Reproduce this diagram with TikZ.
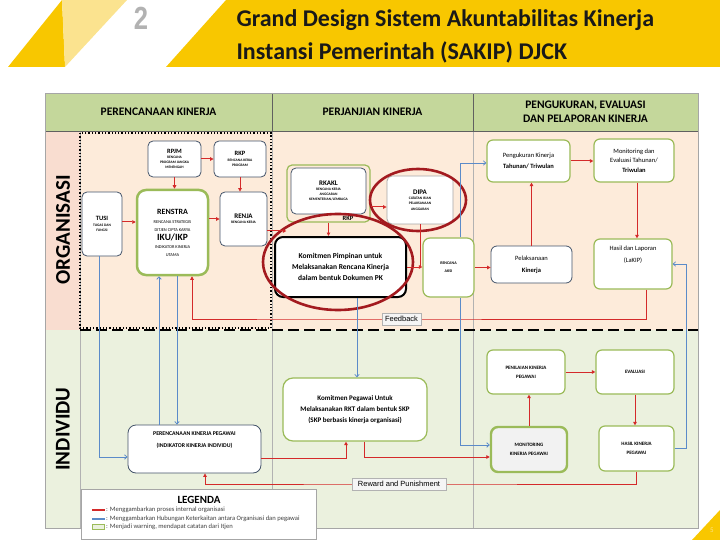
\documentclass[tikz,border=0pt]{standalone}
\usepackage{fontspec}
\setmainfont{Carlito}
\newfontfamily\tagfont{Liberation Sans}
\usetikzlibrary{arrows.meta,calc}
\definecolor{sgold}{HTML}{F8C700}
\definecolor{sgoldlight}{HTML}{FBE38F}
\definecolor{sheadfill}{HTML}{C4D79B}
\definecolor{sorgfill}{HTML}{FDEBDA}
\definecolor{sorgleft}{HTML}{F9DDD0}
\definecolor{sindfill}{HTML}{EBF1DE}
\definecolor{sboxline}{HTML}{44546A}
\definecolor{sgreenline}{HTML}{9BBB59}
\definecolor{sredline}{HTML}{D42A2A}
\definecolor{sblueline}{HTML}{5B8BC9}
\definecolor{sringline}{HTML}{A31A1F}
\tikzset{sbox/.style={rectangle, rounded corners=5pt, draw=sboxline, fill=white, line width=0.8pt, inner sep=1pt, align=center, font=\fontsize{3.6}{5.2}\selectfont\bfseries}}
\tikzset{sgbox/.style={sbox, draw=sgreenline, line width=1.2pt}}
\tikzset{shead/.style={font=\fontsize{11.5}{14}\selectfont\bfseries, align=center}}
\tikzset{sflow/.style={-{Triangle[length=3.5pt,width=3.5pt]}, draw=sredline, line width=1pt}}
\tikzset{slink/.style={-{Straight Barb[length=2.5pt,width=4.5pt]}, draw=sblueline, line width=0.8pt}}
\tikzset{stag/.style={rectangle, draw=gray!60, fill=gray!8, inner sep=3pt, font=\tagfont\fontsize{7.5}{8}\selectfont}}
\tikzset{sring/.style={draw=sringline, line width=2.6pt}}

\begin{document}
\begin{tikzpicture}[x=1pt, y=-1pt]
  \useasboundingbox (0,0) rectangle (720,540);

  % title band
  \fill[sgold] (8,67) -- (65,67) -- (62,0) -- cycle;
  \fill[sgoldlight] (62,0) -- (127,0) -- (65,67) -- cycle;
  \fill[sgold] (166,67) -- (226,0) -- (720,0) -- (720,67) -- cycle;
  \node[font=\tagfont\bfseries\fontsize{32}{32}\selectfont, text=gray!60, xscale=0.8] (num) at (141,18) {2};
  \node[anchor=west, align=left, font=\fontsize{24}{33}\selectfont\bfseries, text=black!90] (title) at (233,36.5) {Grand Design Sistem Akuntabilitas Kinerja\\Instansi Pemerintah (SAKIP) DJCK};

  % table
  \fill[sorgleft] (45,131) rectangle (80,330);
  \fill[sorgfill] (80,131) rectangle (698,330);
  \fill[sindfill] (45,330) rectangle (698,528);
  \fill[sheadfill] (45,93) rectangle (698,131);
  \draw[gray!60] (80,131) -- (80,528) (272,131) -- (272,528) (473,131) -- (473,528);
  \draw[gray!75!black, line width=0.8pt] (45,93) rectangle (698,131) (272,93) -- (272,131) (473,93) -- (473,131);
  \draw[gray!70] (45,93) rectangle (698,528);
  \draw[line width=1.3pt, dotted] (80,133) rectangle (271,328);
  \draw[line width=2pt, dash pattern=on 11pt off 5pt] (80,330) -- (698,330);

  \node[shead] (hplan) at (158.5,112) {PERENCANAAN KINERJA};
  \node[shead] (hpact) at (372.5,112) {PERJANJIAN KINERJA};
  \node[shead] (hmeas) at (585.5,112) {PENGUKURAN, EVALUASI\\DAN PELAPORAN KINERJA};
  \node[rotate=90, font=\fontsize{21}{21}\selectfont\bfseries] (lorg) at (63,230) {ORGANISASI};
  \node[rotate=90, font=\fontsize{21}{21}\selectfont\bfseries] (lind) at (63,429) {INDIVIDU};

  % perencanaan
  \node[sbox, minimum width=53pt, minimum height=36pt] (rpjm) at (174.5,159) {{\fontsize{6.5}{7}\selectfont RPJM}\\RENCANA\\PROGRAM JANGKA\\MENENGAH};
  \node[sbox, minimum width=52pt, minimum height=36pt] (rkp) at (240,159) {{\fontsize{6.5}{7}\selectfont RKP}\\RENCANA KERJA\\PROGRAM};
  \node[sbox, minimum width=40pt, minimum height=64pt] (tusi) at (102,224) {{\fontsize{6.5}{7}\selectfont TUSI}\\TUGAS DAN\\FUNGSI};
  \node[sgbox, line width=2.5pt, rounded corners=9pt, minimum width=71pt, minimum height=85pt, font=\fontsize{4.4}{8}\selectfont] (renstra) at (172.5,232.5) {{\fontsize{8}{9}\selectfont\bfseries RENSTRA}\\[1pt]RENCANA STRATEGIS\\DITJEN CIPTA KARYA\\[1pt]{\fontsize{9.5}{10}\selectfont\bfseries IKU/IKP}\\INDIKATOR KINERJA\\UTAMA};
  \node[sbox, minimum width=47pt, minimum height=54pt] (renja) at (243.5,219) {{\fontsize{7}{8}\selectfont RENJA}\\RENCANA KERJA};

  % perjanjian
  \node[sgbox, fill=none, minimum width=83pt, minimum height=57pt] (rkaklframe) at (328.5,193.5) {};
  \node[sbox, minimum width=75pt, minimum height=46pt] (rkakl) at (328.5,191) {{\fontsize{7}{8}\selectfont RKAKL}\\RENCANA KERJA\\ANGGARAN\\KEMENTERIAN/LEMBAGA};
  \node[font=\fontsize{6.5}{7}\selectfont\bfseries, inner sep=0pt] (rkpnote) at (348,218.5) {RKP};
  \node[sbox, draw=gray!70, minimum width=66pt, minimum height=48pt] (dipa) at (420,200) {{\fontsize{7}{8}\selectfont DIPA}\\CATATAN ISIAN\\PELAKSANAAN\\ANGGARAN};
  \node[sbox, draw=black, line width=2pt, rounded corners=8pt, minimum width=131pt, minimum height=60pt, font=\fontsize{7.5}{11}\selectfont\bfseries] (pk) at (340.5,267) {Komitmen Pimpinan untuk\\Melaksanakan Rencana Kinerja\\dalam bentuk Dokumen PK};
  \node[sgbox, rounded corners=7pt, minimum width=51pt, minimum height=59pt, font=\fontsize{4}{8}\selectfont\bfseries] (aksi) at (448.5,267.5) {RENCANA\\AKSI};

  % pengukuran
  \node[sgbox, rounded corners=6pt, minimum width=83pt, minimum height=42pt, font=\fontsize{6.5}{11}\selectfont] (peng) at (528.5,161) {Pengukuran Kinerja\\\textbf{Tahunan/ Triwulan}};
  \node[sgbox, rounded corners=6pt, minimum width=80pt, minimum height=43pt, font=\fontsize{6.5}{9.5}\selectfont] (monev) at (634,160.5) {Monitoring dan\\Evaluasi Tahunan/\\\textbf{Triwulan}};
  \node[sbox, rounded corners=6pt, minimum width=81pt, minimum height=37pt, font=\fontsize{6.5}{12}\selectfont] (pelaks) at (531.5,264.5) {Pelaksanaan\\\textbf{Kinerja}};
  \node[sgbox, rounded corners=6pt, minimum width=78pt, minimum height=50pt, font=\fontsize{6.5}{12}\selectfont] (lakip) at (633,264) {Hasil dan Laporan\\(LaKIP)\\[8pt]};

  % individu
  \node[sgbox, rounded corners=6pt, minimum width=78pt, minimum height=44pt, font=\fontsize{5}{9}\selectfont\bfseries] (penil) at (526,372) {PENILAIAN KINERJA\\PEGAWAI};
  \node[sgbox, rounded corners=6pt, minimum width=78pt, minimum height=44pt, font=\fontsize{5}{9}\selectfont\bfseries] (eval) at (635,372) {EVALUASI};
  \node[sgbox, line width=2.4pt, fill=gray!10, rounded corners=7pt, minimum width=76pt, minimum height=45pt, font=\fontsize{5}{9}\selectfont\bfseries] (monkp) at (529,449.5) {MONITORING\\KINERJA PEGAWAI};
  \node[sgbox, rounded corners=6pt, minimum width=75pt, minimum height=45pt, font=\fontsize{5}{9}\selectfont\bfseries] (hkp) at (636.5,448.5) {HASIL KINERJA\\PEGAWAI};
  \node[sgbox, rounded corners=10pt, minimum width=144pt, minimum height=63pt, font=\fontsize{7}{11}\selectfont\bfseries] (kpeg) at (355,409.5) {Komitmen Pegawai Untuk\\Melaksanakan RKT dalam bentuk SKP\\(SKP berbasis kinerja organisasi)};
  \node[sbox, rounded corners=8pt, minimum width=133pt, minimum height=48pt, font=\fontsize{5.8}{12}\selectfont\bfseries] (pkp) at (194.5,449) {PERENCANAAN KINERJA PEGAWAI\\(INDIKATOR KINERJA INDIVIDU)\\[6pt]};

  % rings
  \draw[sring] (418,200) ellipse (48pt and 31pt);
  \draw[sring] (338,262) ellipse (75pt and 48pt);

  % internal process
  \draw[sflow] (rpjm.east) -- (rkp.west);
  \draw[sflow] (rpjm.south) -- (rpjm.south |- renstra.north);
  \draw[sflow] (rkp.south) -- (rkp.south |- renja.north);
  \draw[sflow] ([yshift=2pt]tusi.east) -- ([yshift=2pt]tusi.east -| renstra.west);
  \draw[sflow] (renstra.east |- renja.west) -- (renja.west);
  \draw[sflow] ([yshift=-12pt]renja.east) -- ([yshift=-12pt]renja.east -| rkaklframe.west);
  \draw[sflow] ([yshift=-7pt]rkaklframe.east |- dipa.west) -- ([yshift=-7pt]dipa.west);
  \draw[sflow] (rkaklframe.south) -- (rkaklframe.south |- pk.north);
  \draw[sflow] (pk.east) -- (pk.east -| aksi.west);
  \draw[sredline, line width=1pt] (dipa.south) -- (dipa.south |- pk.east);
  \draw[sflow] (aksi.east) -- (aksi.east -| pelaks.west);
  \draw[sflow] (pelaks.north) -- (pelaks.north |- peng.south);
  \draw[sflow] (peng.east) -- (peng.east -| monev.west);
  \draw[sflow] ([xshift=3pt]monev.south) -- ([xshift=3pt]monev.south |- lakip.north);
  \draw[sflow] ([xshift=13pt]lakip.south) |- (320,319) -| ([xshift=19.5pt]renstra.south);
  \draw[sflow] (penil.east) -- (penil.east -| eval.west);
  \draw[sflow] (eval.south) -- (eval.south |- hkp.north);
  \draw[sflow] (monkp.north) -- (monkp.north |- penil.south);
  \draw[sflow] ([yshift=-9pt]pkp.east) -| ([xshift=-9pt]kpeg.south);
  \draw[sflow] ([xshift=9pt]kpeg.south) |- ([yshift=-7.5pt]monkp.west);
  \draw[sflow] (hkp.south) |- (400,484) -| ([xshift=10.5pt]pkp.south);

  % organisation and staff
  \draw[slink] ([xshift=-3pt]tusi.south) |- ([yshift=-8pt]pkp.west);
  \draw[slink] ([xshift=-35.5pt]pkp.north) -- ([xshift=-35.5pt]pkp.north |- renstra.south);
  \draw[slink] ([xshift=4.5pt]renstra.south) -- ([xshift=4.5pt]renstra.south |- pkp.north);
  \draw[slink] ([xshift=16.5pt]pk.south) -- ([xshift=16.5pt]pk.south |- kpeg.north);
  \draw[slink] ([xshift=11.5pt]aksi.north) |- ([yshift=-2pt]peng.west);
  \draw[slink] ([xshift=11.5pt]aksi.south) |- ([yshift=4.5pt]monkp.west);
  \draw[slink] (hkp.east) -| ([xshift=14pt]lakip.east) -- (lakip.east);

  \node[stag] (fbtag) at (401.5,319) {Feedback};
  \node[stag, minimum width=94pt] (rptag) at (399,484) {Reward and Punishment};

  % legend
  \node[draw=gray!70, fill=white, minimum width=235pt, minimum height=50pt] (legend) at (198.5,514) {};
  \node[font=\fontsize{11}{11}\selectfont\bfseries] (legtitle) at (199,500) {LEGENDA};
  \draw[sredline, line width=1.4pt] (92,510) -- (105,510);
  \draw[sblueline, line width=1.4pt] (92,519) -- (105,519);
  \draw[sgreenline, fill=sindfill, line width=0.8pt] (92,524.5) rectangle (104,529.5);
  \node[anchor=west, inner sep=0pt, font=\fontsize{6.6}{7}\selectfont, text=black!75] (legred) at (106,510) {: Menggambarkan proses internal organisasi};
  \node[anchor=west, inner sep=0pt, font=\fontsize{6.6}{7}\selectfont, text=black!75] (legblue) at (106,519) {: Menggambarkan Hubungan Keterkaitan antara Organisasi dan pegawai};
  \node[anchor=west, inner sep=0pt, font=\fontsize{6.6}{7}\selectfont, text=black!75] (leggreen) at (106,527) {: Menjadi warning, mendapat catatan dari Itjen};

  % page number
  \fill[sgold] (692,540) -- (720,510) -- (720,540) -- cycle;
  \node[font=\fontsize{7}{7}\selectfont, text=sgoldlight] (page) at (712,530) {5};
\end{tikzpicture}
\end{document}
